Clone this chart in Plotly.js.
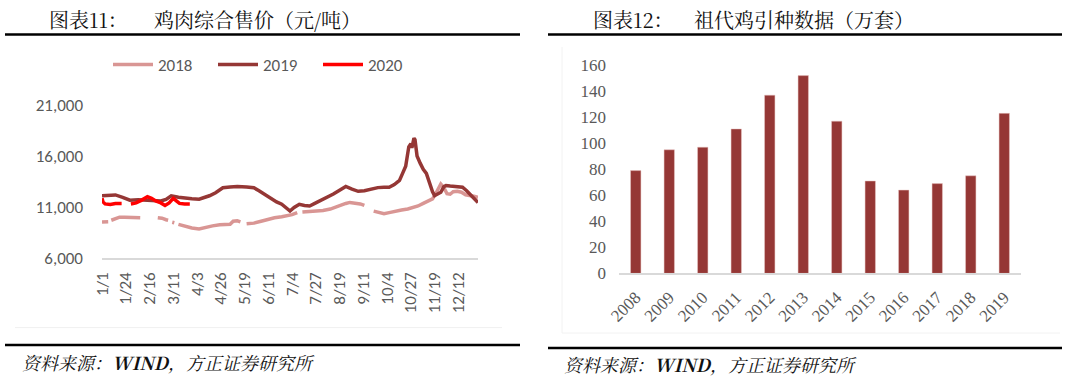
<!DOCTYPE html>
<html><head><meta charset="utf-8">
<script src="https://cdn.plot.ly/plotly-3.0.1.min.js"></script>
<style>html,body{margin:0;padding:0;background:#fff}#c{width:1080px;height:379px}</style>
</head><body><div id="c"></div>
<script>
// ---- Left chart: 鸡肉综合售价 (day-of-year index, value in 元/吨) ----
const tickDays = [0,23,46,69,92,115,138,161,184,207,230,253,276,299,322,345];
const tickLabels = ["1/1","1/24","2/16","3/11","4/3","4/26","5/19","6/11","7/4","7/27","8/19","9/11","10/4","10/27","11/19","12/12"];

const days2018 = [0,3,6,7,9,13,17,22,28,33,37,45,54,58,62,64,66,68,70,72,74,80,87,94,100,107,114,120,124,127,131,134,137,140,147,154,160,167,174,180,184,189,191,194,200,207,214,221,226,231,236,240,245,250,254,258,263,268,273,278,284,290,296,301,306,311,316,320,323,326,328,331,334,337,340,344,348,352,356,360,364];
const price2018 = [9520,9520,9550,null,9700,9850,10000,10000,10000,9950,9950,null,9950,9900,9750,9700,null,9500,9450,null,9300,9100,8950,8850,9000,9150,9250,9250,9300,9600,9650,9550,null,9350,9420,9600,9800,9950,10050,10150,10250,10450,null,10500,10550,10600,10650,10800,11000,11200,11350,11450,11400,11300,11150,null,10600,10450,10350,10450,10600,10700,10800,10950,11100,11350,11600,11800,12300,13000,13250,12900,12300,12250,12500,12550,12450,12200,12150,12050,11950];

const days2019 = [0,6,13,20,27,35,44,50,57,62,67,74,80,87,94,99,104,110,117,124,131,140,147,152,157,161,164,169,174,178,182,186,191,196,201,206,211,218,224,230,236,242,248,254,260,267,273,278,283,288,291,294,297,299,300,302,303,305,308,311,314,317,320,322,325,328,331,333,337,341,345,349,353,356,360,364];
const price2019 = [12100,12150,12180,11950,11670,11700,11670,11600,11600,11750,12100,11950,11870,11800,11770,11900,12100,12400,12880,12950,13010,12950,12880,12600,12270,12000,11770,11500,11270,10950,10600,10950,11270,11150,11100,11350,11600,11950,12270,12650,13010,12750,12540,12600,12770,12900,12940,12940,13200,13600,14300,15000,16900,17200,16800,17750,17600,16000,15300,14700,14300,13280,12500,12110,12300,12440,13000,13110,13050,13010,13000,12940,12600,12270,11900,11440];

const days2020 = [0,1,3,8,13,19,23,28,33,38,44,48,52,57,61,65,69,72,75,80,85];
const price2020 = [11850,11500,11300,11250,11350,11350,null,11300,11400,11650,12000,11850,11600,11400,11150,11400,11850,11600,11350,11300,11300];

// ---- Right chart: 祖代鸡引种数据 (万套) ----
const years = ["2008","2009","2010","2011","2012","2013","2014","2015","2016","2017","2018","2019"];
const imports = [79,95,97,111,137,152,117,71,64,69,75,123];

const W = 1080, H = 379;
const px = x => x / W;
const py = y => 1 - y / H;

const lineFont = {family: "Carlito, Lato, sans-serif", size: 17, color: "#595959"};
const serifFont = {family: "Liberation Serif, serif", size: 17, color: "#595959"};
const cjk = "Noto Serif CJK SC, Noto Sans CJK SC, sans-serif";

const traces = [
  {x: days2018, y: price2018, name: "2018", type: "scatter", mode: "lines", connectgaps: false,
   line: {color: "#d99694", width: 3.5}, xaxis: "x", yaxis: "y"},
  {x: days2019, y: price2019, name: "2019", type: "scatter", mode: "lines", connectgaps: false,
   line: {color: "#953735", width: 3.5}, xaxis: "x", yaxis: "y"},
  {x: days2020, y: price2020, name: "2020", type: "scatter", mode: "lines", connectgaps: false,
   line: {color: "#ff0000", width: 3.5}, xaxis: "x", yaxis: "y"},
  {x: years, y: imports, type: "bar", showlegend: false, marker: {color: "#953735", line: {color: "#e8c4c3", width: 0.5}},
   xaxis: "x2", yaxis: "y2"}
];

const layout = {
  width: W, height: H, margin: {l: 0, r: 0, t: 0, b: 0},
  paper_bgcolor: "#fff", plot_bgcolor: "rgba(0,0,0,0)",
  showlegend: true,
  legend: {orientation: "h", x: px(108), y: py(65), xanchor: "left", yanchor: "middle",
           font: lineFont, entrywidth: 50, entrywidthmode: "pixels", itemwidth: 40,
           bgcolor: "rgba(0,0,0,0)", tracegroupgap: 0},
  bargap: 0.69,
  xaxis: {domain: [px(102), px(478)], range: [0, 364], tickvals: tickDays, ticktext: tickLabels,
          tickangle: -90, tickfont: lineFont, showgrid: false, zeroline: false,
          showline: true, linecolor: "#d9d9d9", linewidth: 1.5, ticks: "", ticklabelstandoff: 6, anchor: "y"},
  yaxis: {domain: [py(258), py(105)], range: [6000, 21000], tickvals: [6000, 11000, 16000, 21000],
          tickformat: ",d", tickfont: lineFont, showgrid: false, zeroline: false, showline: false,
          ticks: "", ticklabelstandoff: 18, anchor: "x"},
  xaxis2: {domain: [px(619), px(1021)], type: "category", range: [-0.5, 11.5], tickangle: -45,
           tickfont: serifFont, showgrid: false, zeroline: false, showline: true,
           linecolor: "#d9d9d9", linewidth: 1.5, ticks: "", ticklabelstandoff: 6, anchor: "y2"},
  yaxis2: {domain: [py(273.4), py(65.2)], range: [0, 160], dtick: 20, tickfont: serifFont,
           showgrid: false, zeroline: false, showline: false, ticks: "", ticklabelstandoff: 12, anchor: "x2"},
  shapes: [
    {type: "line", xref: "paper", yref: "paper", x0: px(5), x1: px(520), y0: py(34.5), y1: py(34.5), line: {color: "#000", width: 2.5}},
    {type: "line", xref: "paper", yref: "paper", x0: px(5), x1: px(520), y0: py(345), y1: py(345), line: {color: "#000", width: 2.5}},
    {type: "line", xref: "paper", yref: "paper", x0: px(548), x1: px(1062), y0: py(34.5), y1: py(34.5), line: {color: "#000", width: 2.5}},
    {type: "line", xref: "paper", yref: "paper", x0: px(548), x1: px(1062), y0: py(348), y1: py(348), line: {color: "#000", width: 2.5}},
    {type: "line", xref: "paper", yref: "paper", x0: px(15), x1: px(502), y0: py(327.6), y1: py(327.6), line: {color: "#f0f0f0", width: 1}},
    {type: "line", xref: "paper", yref: "paper", x0: px(562), x1: px(562), y0: py(47), y1: py(333), line: {color: "#f2f2f2", width: 1}},
    {type: "line", xref: "paper", yref: "paper", x0: px(562), x1: px(1060), y0: py(333), y1: py(333), line: {color: "#f2f2f2", width: 1}}
  ],
  annotations: [
    {text: "图表11：", x: px(47), y: py(19), xref: "paper", yref: "paper", xanchor: "left", yanchor: "middle", showarrow: false, font: {family: cjk, size: 20, color: "#111"}},
    {text: "鸡肉综合售价（元/吨）", x: px(152), y: py(19), xref: "paper", yref: "paper", xanchor: "left", yanchor: "middle", showarrow: false, font: {family: cjk, size: 20, color: "#111"}},
    {text: "图表12：", x: px(591), y: py(19), xref: "paper", yref: "paper", xanchor: "left", yanchor: "middle", showarrow: false, font: {family: cjk, size: 20, color: "#111"}},
    {text: "祖代鸡引种数据（万套）", x: px(692), y: py(19), xref: "paper", yref: "paper", xanchor: "left", yanchor: "middle", showarrow: false, font: {family: cjk, size: 20, color: "#111"}},
    {text: "资料来源：<b>WIND</b>，方正证券研究所", x: px(20), y: py(362), xref: "paper", yref: "paper", xanchor: "left", yanchor: "middle", showarrow: false, font: {family: cjk, size: 18, color: "#111", style: "italic"}},
    {text: "资料来源：<b>WIND</b>，方正证券研究所", x: px(562), y: py(364), xref: "paper", yref: "paper", xanchor: "left", yanchor: "middle", showarrow: false, font: {family: cjk, size: 18, color: "#111", style: "italic"}}
  ]
};

Plotly.newPlot("c", traces, layout, {staticPlot: true, displayModeBar: false});
</script>
</body></html>
